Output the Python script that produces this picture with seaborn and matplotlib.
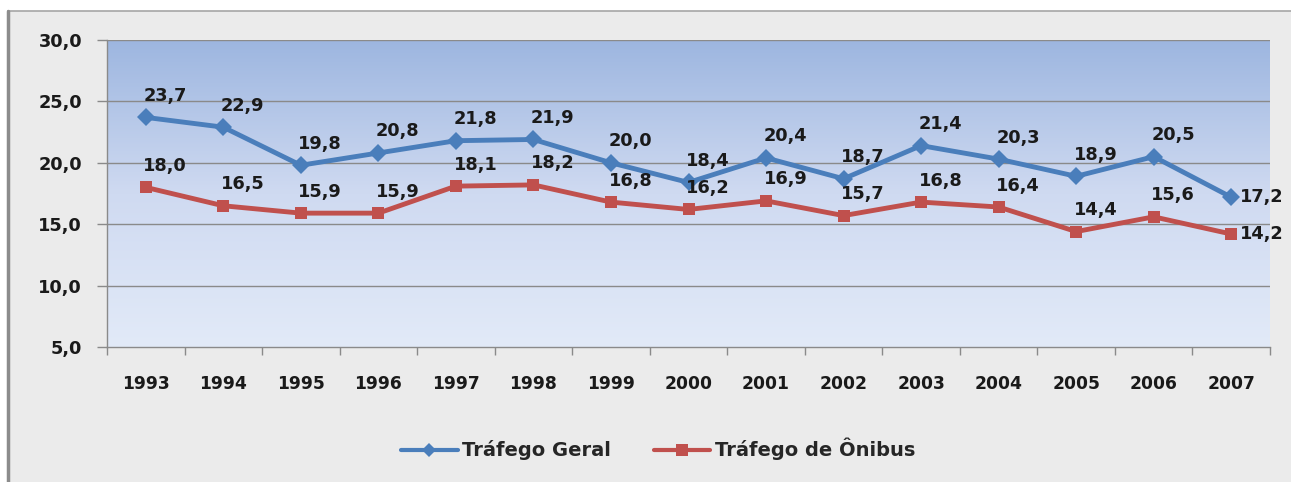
import numpy as np
import pandas as pd
import matplotlib
matplotlib.use("Agg")
import matplotlib.pyplot as plt
from matplotlib.patches import Rectangle
from matplotlib.colors import LinearSegmentedColormap
import seaborn as sns

# Series data
years = ["1993", "1994", "1995", "1996", "1997", "1998", "1999", "2000",
         "2001", "2002", "2003", "2004", "2005", "2006", "2007"]
trafego_geral = [23.7, 22.9, 19.8, 20.8, 21.8, 21.9, 20.0, 18.4,
                 20.4, 18.7, 21.4, 20.3, 18.9, 20.5, 17.2]
trafego_onibus = [18.0, 16.5, 15.9, 15.9, 18.1, 18.2, 16.8, 16.2,
                  16.9, 15.7, 16.8, 16.4, 14.4, 15.6, 14.2]
series_names = ["Tráfego Geral", "Tráfego de Ônibus"]
y_ticks = [5, 10, 15, 20, 25, 30]

blue = "#4a7ebb"
red = "#c0504d"

sns.set_theme(style="white")
plt.rcParams["font.family"] = ["DejaVu Sans"]

pos = np.arange(len(years))
df = pd.DataFrame({
    "pos": np.concatenate([pos, pos]),
    "valor": trafego_geral + trafego_onibus,
    "serie": [series_names[0]] * len(years) + [series_names[1]] * len(years),
})

fig = plt.figure(figsize=(12.91, 4.82), dpi=100)
fig.patch.set_facecolor("white")

# Chart frame
frame = Rectangle((8 / 1291, -0.05), 1.2, (482 - 11) / 482 + 0.05,
                  transform=fig.transFigure, facecolor="#ebebeb",
                  edgecolor="#a6a6a6", linewidth=1.2, zorder=-2)
fig.add_artist(frame)
fig.add_artist(plt.Line2D([8 / 1291, 8 / 1291], [0, (482 - 11) / 482],
                          transform=fig.transFigure, color="#8c8c8c", lw=2.5, zorder=-1))

ax = fig.add_axes([107 / 1291, (482 - 347) / 482, (1270 - 107) / 1291, (347 - 40) / 482])
ax.set_facecolor("none")
ax.set_zorder(1)

# Gradient plot area
grad = LinearSegmentedColormap.from_list("bg", ["#e2eaf8", "#cfdaf1", "#9db6e0"])
ax.imshow(np.linspace(0, 1, 256).reshape(-1, 1), cmap=grad, origin="lower",
          extent=[0, 1, 0, 1], transform=ax.transAxes, aspect="auto", zorder=0)

for y in y_ticks[1:]:
    ax.axhline(y, color="#8a8a8a", lw=1.0, zorder=1)

sns.lineplot(data=df, x="pos", y="valor", hue="serie", style="serie",
             palette=[blue, red], markers=["D", "s"], dashes=False,
             linewidth=3.5, markersize=9, markeredgewidth=0, ax=ax,
             legend=False, zorder=3)

ax.set_xlim(-0.5, len(years) - 0.5)
ax.set_ylim(5, 30)
ax.set_xticks(pos)
ax.set_xticklabels(years, fontsize=12.3, fontweight="bold", color="#1a1a1a")
ax.set_xticks(np.arange(-0.5, len(years), 1.0), minor=True)
ax.tick_params(axis="x", which="major", length=0, pad=20)
ax.tick_params(axis="x", which="minor", length=6, width=1, color="#8a8a8a", direction="out", bottom=True)
ax.set_yticks(y_ticks)
ax.set_yticklabels([f"{v:.1f}".replace(".", ",") for v in y_ticks],
                   fontsize=12.8, fontweight="bold", color="#1a1a1a")
ax.tick_params(axis="y", length=7, width=1, color="#8a8a8a", direction="out", left=True, pad=11)
ax.set_xlabel("")
ax.set_ylabel("")
for s in ["top", "right"]:
    ax.spines[s].set_visible(False)
for s in ["left", "bottom"]:
    ax.spines[s].set_color("#8a8a8a")
    ax.spines[s].set_linewidth(1.0)

# Value labels
last = len(years) - 1
for values in (trafego_geral, trafego_onibus):
    for i, v in enumerate(values):
        txt = f"{v:.1f}".replace(".", ",")
        if i == last:
            ax.annotate(txt, (i, v), xytext=(6, 0), textcoords="offset points",
                        ha="left", va="center", fontsize=12.8, fontweight="bold",
                        color="#1a1a1a", zorder=5)
        else:
            ax.annotate(txt, (i, v), xytext=(14, 9), textcoords="offset points",
                        ha="center", va="bottom", fontsize=12.8, fontweight="bold",
                        color="#1a1a1a", zorder=5)

handles = [
    plt.Line2D([], [], color=blue, lw=3, marker="D", markersize=7, markeredgewidth=0),
    plt.Line2D([], [], color=red, lw=3, marker="s", markersize=8, markeredgewidth=0),
]
fig.legend(handles, series_names, loc="center", bbox_to_anchor=(0.51, 0.068),
           ncol=2, frameon=False, prop={"size": 14, "weight": "bold"},
           handlelength=2.9, columnspacing=2.2, handletextpad=0.25)

fig.savefig("out.png", dpi=100)
